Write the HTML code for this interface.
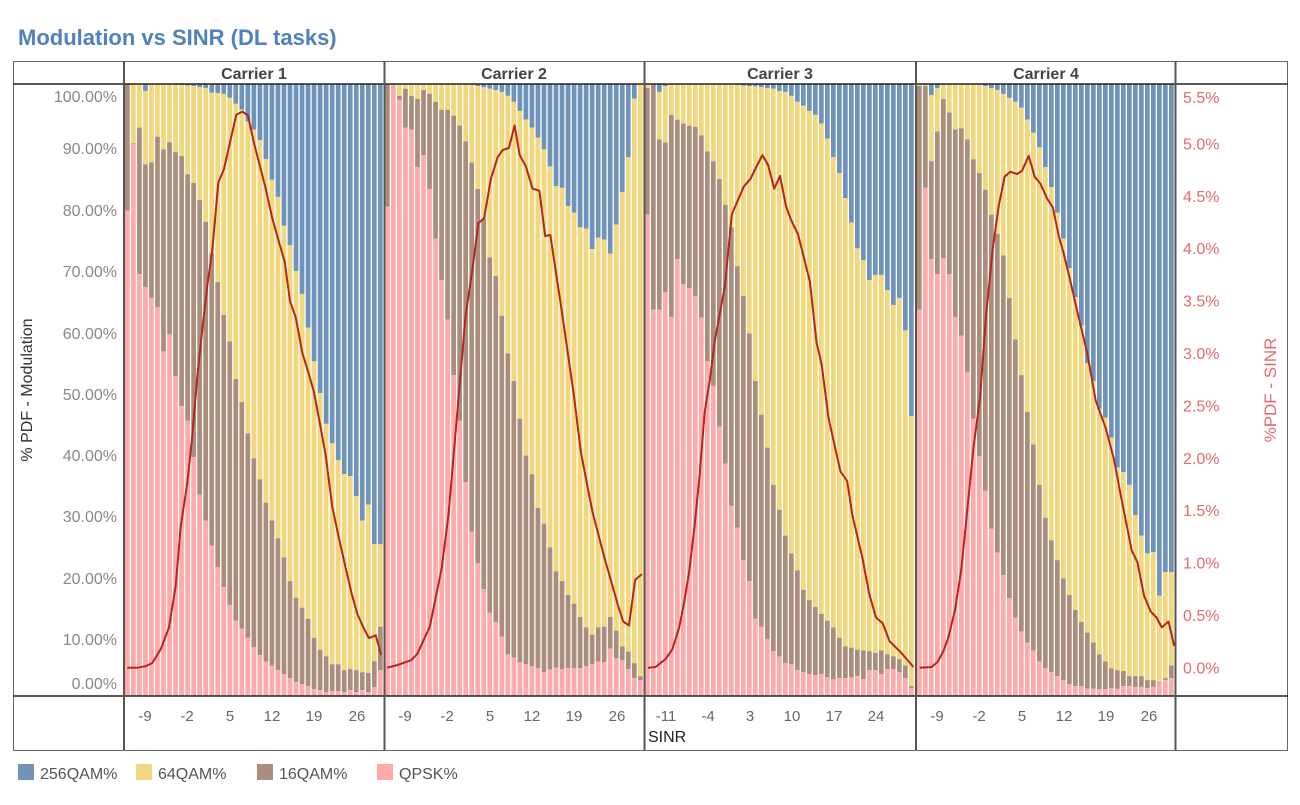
<!DOCTYPE html>
<html><head><meta charset="utf-8">
<style>
html,body{margin:0;padding:0;background:#fff;}
body{width:1300px;height:800px;overflow:hidden;font-family:"Liberation Sans",sans-serif;}
</style></head>
<body>
<svg id="s" width="1300" height="800" xmlns="http://www.w3.org/2000/svg" font-family="Liberation Sans, sans-serif">
<text x="18" y="45" font-size="22" font-weight="bold" fill="#4f81bd">Modulation vs SINR (DL tasks)</text>
<g id="bars"></g>
<g id="frame" stroke="#555" fill="none">
<rect x="13.5" y="61.5" width="1274" height="689" stroke="#666" stroke-width="1"/>
<line x1="13" y1="84" x2="1288" y2="84" stroke="#222" stroke-width="1.5"/>
<line x1="13" y1="696" x2="1288" y2="696" stroke="#222" stroke-width="1.5"/>
<line x1="124" y1="61" x2="124" y2="750" stroke-width="2"/>
<line x1="384.5" y1="61" x2="384.5" y2="750" stroke-width="2"/>
<line x1="644.5" y1="61" x2="644.5" y2="750" stroke-width="2"/>
<line x1="916" y1="61" x2="916" y2="750" stroke-width="2"/>
<line x1="1175.5" y1="61" x2="1175.5" y2="750" stroke-width="2"/>
</g>
<g font-size="16" font-weight="bold" fill="#444" text-anchor="middle">
<text x="254" y="79">Carrier 1</text>
<text x="514" y="79">Carrier 2</text>
<text x="780" y="79">Carrier 3</text>
<text x="1046" y="79">Carrier 4</text>
</g>
<g id="ylab" font-size="16" fill="#888" text-anchor="end"></g>
<g id="rlab" font-size="16" fill="#e8696b" text-anchor="start"></g>
<g id="xlab" font-size="15" fill="#666" text-anchor="middle"></g>
<text x="648" y="742" font-size="16" fill="#222">SINR</text>
<text transform="translate(32,390) rotate(-90)" font-size="16" fill="#333" text-anchor="middle">% PDF - Modulation</text>
<text transform="translate(1276,390) rotate(-90)" font-size="17" fill="#e8696b" text-anchor="middle">%PDF - SINR</text>
<g font-size="16" fill="#555">
<rect x="18" y="764" width="16" height="16" fill="#7093b9"/><text x="40" y="779">256QAM%</text>
<rect x="136" y="764" width="16" height="16" fill="#f1d87f"/><text x="158" y="779">64QAM%</text>
<rect x="257" y="764" width="16" height="16" fill="#ab8d7c"/><text x="279" y="779">16QAM%</text>
<rect x="377" y="764" width="16" height="16" fill="#ffaaaa"/><text x="399" y="779">QPSK%</text>
</g>
</svg>
<script>
var NS="http://www.w3.org/2000/svg";
function el(p,t,a,txt){var e=document.createElementNS(NS,t);for(var k in a)e.setAttribute(k,a[k]);if(txt!==undefined)e.textContent=txt;p.appendChild(e);return e;}
var TOP=84,BOT=696,H=BOT-TOP;
function pct(zy){var v=(1555-zy)/15.45;return Math.max(0,Math.min(100,v));}
var C=[
{x0:125,x1:384,sx:3,ox:124,
pink:[330,162,490,523,550,573,685,642,748,823,860,952,1047,1112,1175,1230,1280,1325,1365,1385,1408,1432,1452,1468,1478,1490,1500,1510,1520,1525,1530,1538,1540,1545,1543,1543,1545,1540,1545,1540,1545,1533,1490],
brown:[10,160,120,213,208,143,175,157,182,192,238,260,303,358,438,510,593,660,755,813,892,955,1008,1067,1112,1157,1205,1265,1307,1332,1360,1408,1438,1455,1475,1475,1490,1487,1490,1495,1497,1467,1380],
yel:[10,10,10,28,10,10,10,10,12,13,14,15,18,20,32,33,35,45,60,75,105,125,152,200,252,295,368,417,482,540,625,710,790,868,917,960,995,1000,1050,1112,1072,1172,1172],
line:[[10,1487],[40,1487],[65,1483],[85,1475],[110,1440],[135,1385],[155,1280],[170,1130],[190,1020],[205,900],[220,750],[235,630],[250,520],[265,430],[283,260],[300,225],[320,150],[337,88],[355,80],[372,90],[390,160],[410,225],[425,275],[445,350],[465,410],[482,460],[498,560],[515,600],[535,690],[555,745],[570,790],[590,880],[605,950],[625,1080],[645,1160],[665,1235],[683,1300],[700,1350],[718,1385],[735,1412],[755,1405],[772,1455]],
ticks:[[-9,145],[-2,187],[5,230],[12,272],[19,314],[26,357]]},
{x0:385,x1:644,sx:2.947,ox:384,
pink:[320,10,50,120,125,220,190,275,400,505,605,745,860,1015,1140,1220,1285,1345,1368,1405,1450,1458,1470,1475,1480,1485,1495,1488,1483,1487,1485,1485,1485,1480,1475,1468,1470,1435,1460,1465,1487,1510,1515],
brown:[10,10,40,22,40,48,25,35,55,75,75,90,115,155,208,275,350,448,495,595,690,760,855,948,995,1080,1120,1180,1240,1265,1300,1322,1355,1382,1400,1382,1380,1355,1390,1430,1443,1472,1505],
yel:[10,10,10,10,10,10,10,10,10,10,10,10,10,10,12,15,18,22,25,30,40,55,78,100,120,145,175,218,268,272,318,335,372,375,427,398,403,438,365,283,195,47,10],
line:[[9,1487],[40,1480],[80,1468],[98,1452],[135,1383],[170,1235],[190,1100],[210,900],[240,600],[262,470],[278,362],[295,350],[315,250],[335,195],[350,177],[368,172],[385,115],[400,190],[418,218],[438,275],[458,280],[475,395],[490,392],[525,590],[545,710],[560,800],[580,940],[600,1030],[615,1095],[650,1210],[690,1330],[705,1370],[722,1380],[740,1265],[760,1250]],
ticks:[[-9,405],[-2,447],[5,490],[12,532],[19,574],[26,617]]},
{x0:645,x1:915,sx:2.947,ox:384,
pink:[340,580,580,535,598,452,515,525,545,600,710,772,875,968,1075,1130,1212,1265,1360,1380,1412,1442,1455,1472,1475,1490,1495,1500,1502,1500,1508,1513,1510,1510,1508,1505,1512,1490,1490,1500,1487,1487,1495,1510,1535],
brown:[20,15,150,158,88,100,110,115,118,140,180,205,250,315,372,470,545,640,760,845,928,1022,1085,1150,1195,1238,1287,1313,1330,1348,1365,1382,1408,1430,1433,1438,1440,1442,1446,1440,1450,1455,1462,1478,1530],
yel:[10,30,30,15,10,10,10,10,10,10,10,10,10,10,10,12,14,15,16,18,20,22,28,30,40,55,65,78,88,110,148,195,235,298,360,425,455,505,492,492,530,568,550,632,848],
line:[[778,1487],[800,1485],[830,1465],[850,1440],[870,1385],[885,1320],[900,1240],[915,1130],[930,1000],[945,840],[960,760],[975,660],[990,590],[1005,520],[1025,340],[1045,300],[1060,270],[1080,250],[1100,215],[1115,190],[1132,215],[1150,275],[1167,243],[1185,320],[1200,355],[1220,390],[1255,510],[1275,665],[1290,720],[1310,855],[1345,990],[1365,1015],[1380,1100],[1410,1210],[1430,1300],[1450,1360],[1470,1375],[1490,1420],[1525,1450],[1560,1485]],
ticks:[[-11,666],[-4,708],[3,750],[10,792],[17,834],[24,876]]},
{x0:917,x1:1175,sx:2.99,ox:915,
pink:[580,272,452,490,450,490,598,645,738,855,950,1037,1133,1193,1250,1308,1357,1392,1420,1440,1468,1485,1495,1505,1515,1525,1530,1530,1536,1536,1538,1538,1535,1537,1530,1530,1532,1532,1535,1532,1522,1515,1510],
brown:[15,15,205,130,48,82,125,122,150,200,235,277,340,388,443,550,655,745,838,920,1022,1105,1162,1212,1258,1300,1338,1368,1395,1420,1450,1468,1485,1490,1492,1505,1505,1505,1515,1515,1520,1510,1478],
yel:[10,12,38,20,12,10,10,10,10,10,12,15,20,25,35,45,55,70,100,133,170,220,270,335,400,475,548,620,715,760,830,852,903,978,990,1022,1098,1150,1195,1192,1302,1242,1242],
line:[[14,1487],[50,1485],[68,1472],[85,1445],[100,1410],[120,1340],[138,1240],[155,1100],[175,930],[195,800],[212,600],[232,430],[250,320],[268,245],[285,232],[305,238],[320,230],[340,192],[358,245],[375,262],[395,300],[412,322],[430,395],[445,440],[465,510],[485,585],[515,690],[540,810],[570,880],[595,960],[615,1050],[648,1190],[665,1220],[685,1305],[705,1345],[722,1360],[738,1385],[758,1370],[775,1432]],
ticks:[[-9,937],[-2,979],[5,1022],[12,1064],[19,1106],[26,1149]]}
];
var g=document.getElementById('bars');
function yOf(p){return BOT-p/100*H;}
C.forEach(function(c){
 var n=c.pink.length,pitch=(c.x1-c.x0)/n,w=pitch-1.3;
 for(var i=0;i<n;i++){
  var x=c.x0+i*pitch;
  var pp=pct(c.pink[i]),pb=Math.max(pp,pct(c.brown[i])),py=Math.max(pb,pct(c.yel[i]));
  el(g,'rect',{x:x,y:TOP,width:w,height:yOf(py)-TOP,fill:'#7093b9'});
  el(g,'rect',{x:x,y:yOf(py),width:w,height:(py-pb)/100*H,fill:'#f1d87f'});
  el(g,'rect',{x:x,y:yOf(pb),width:w,height:(pb-pp)/100*H,fill:'#ab8d7c'});
  el(g,'rect',{x:x,y:yOf(pp),width:w,height:pp/100*H,fill:'#ffaaaa'});
 }
 var pts=c.line.map(function(p){return (c.ox+p[0]/c.sx).toFixed(1)+','+(80+p[1]/2.53).toFixed(1);}).join(' ');
 el(g,'polyline',{points:pts,fill:'none',stroke:'#b5261f','stroke-width':2,'stroke-linejoin':'round'});
 var xl=document.getElementById('xlab');
 c.ticks.forEach(function(t){el(xl,'text',{x:t[1],y:721},String(t[0]));});
});
var yl=document.getElementById('ylab');
[[100,97],[90,149],[80,211],[70,272],[60,334],[50,395],[40,456],[30,517],[20,579],[10,640],[0,684]].forEach(function(a){el(yl,'text',{x:117,y:a[1]+5},a[0].toFixed(2)+'%');});
var rl=document.getElementById('rlab');
for(var k=0;k<=11;k++){var v=k*0.5;var y=667.4-v*104.8;if(k==11)y=97;el(rl,'text',{x:1183,y:y+6},v.toFixed(1)+'%');}
</script>
</body></html>
